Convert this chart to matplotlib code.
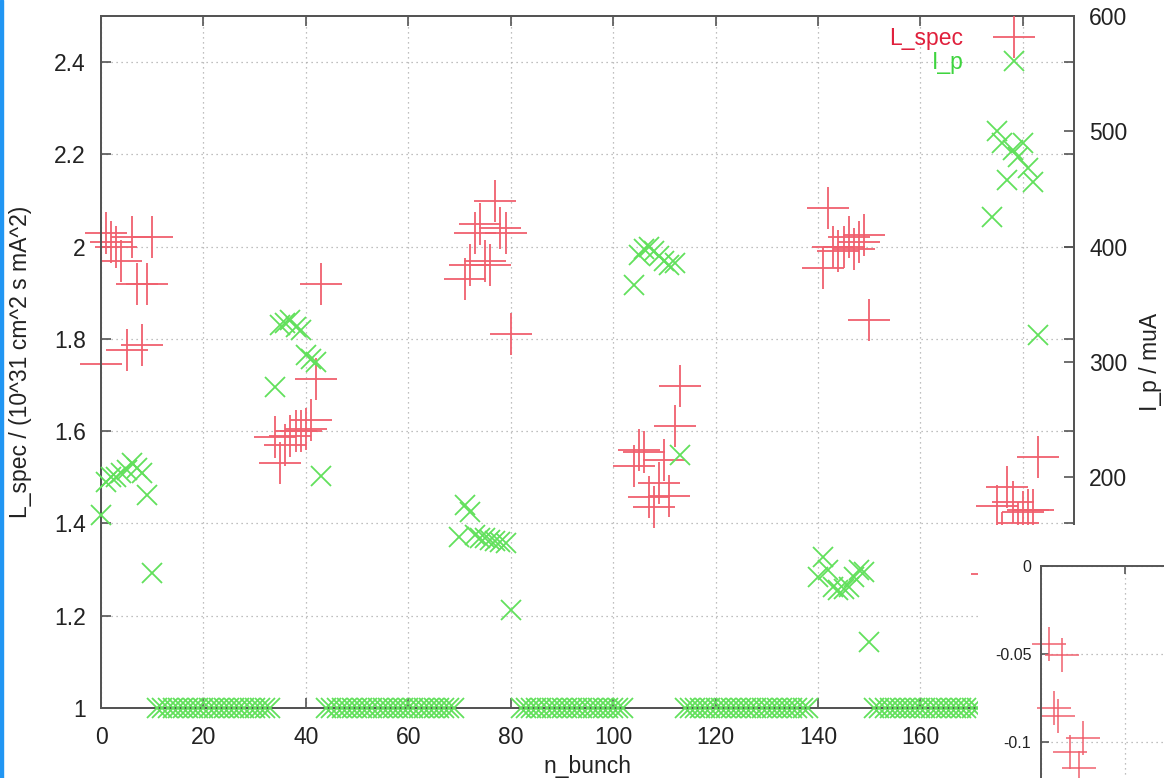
import matplotlib.pyplot as plt
from matplotlib.ticker import FormatStrFormatter
from matplotlib.patches import Rectangle

plt.rcParams['font.family'] = ['Liberation Sans', 'DejaVu Sans']

# specific luminosity per filled bunch (left axis)
lspec_bunch = [0, 1, 2, 3, 4, 5, 6, 7, 8, 9, 10,
               34, 35, 36, 37, 38, 39, 40, 41, 42, 43,
               71, 72, 73, 74, 75, 76, 77, 78, 79, 80,
               104, 105, 106, 107, 108, 109, 110, 111, 112, 113,
               141, 142, 143, 144, 145, 146, 147, 148, 149, 150,
               174, 175, 176, 177, 178, 179, 180, 181, 182, 183]
lspec = [1.745, 2.03, 2.01, 2.00, 1.97, 1.775, 2.02, 1.92, 1.787, 1.92, 2.02,
         1.587, 1.53, 1.57, 1.59, 1.60, 1.60, 1.605, 1.625, 1.713, 1.918,
         1.93, 1.96, 2.03, 2.05, 1.97, 1.96, 2.10, 2.04, 2.03, 1.81,
         1.524, 1.56, 1.555, 1.457, 1.436, 1.488, 1.537, 1.46, 1.611, 1.698,
         1.953, 2.083, 2.00, 1.99, 2.00, 2.02, 1.995, 2.01, 2.025, 1.841,
         1.29, 1.438, 1.38, 1.48, 1.446, 1.40, 1.425, 1.43, 1.43, 1.545]

# bunch current of filled bunches (right axis)
ip_bunch = [0, 1, 2, 3, 4, 5, 6, 7, 8, 9, 10,
            34, 35, 36, 37, 38, 39, 40, 41, 42, 43,
            70, 71, 72, 73, 74, 75, 76, 77, 78, 79, 80,
            104, 105, 106, 107, 108, 109, 110, 111, 112, 113,
            140, 141, 142, 143, 144, 145, 146, 147, 148, 149, 150,
            174, 175, 176, 177, 178, 179, 180, 181, 182, 183]
ip = [167, 196, 200, 200, 204, 206, 212, 208, 204, 185, 117,
      278, 332, 334, 336, 330, 328, 306, 303, 300, 201,
      148, 176, 170, 150, 147, 147, 146, 145, 144, 143, 85,
      367, 393, 398, 400, 396, 392, 388, 384, 386, 219,
      114, 131, 120, 105, 102, 103, 105, 114, 120, 118, 57,
      426, 500, 490, 458, 484, 478, 490, 468, 456, 323]

# empty bunch trains (I_p = 0), first and last bunch of each
empty_trains = [(11, 33), (44, 69), (82, 102), (114, 138), (151, 171)]

# second plot, partly visible in the corner
corner_bunch = [2, 5, 3, 4, 10, 7, 9]
corner_val = [-0.0443, -0.0506, -0.0807, -0.085, -0.0977, -0.1057, -0.1148]

x_ticks = [0, 20, 40, 60, 80, 100, 120, 140, 160, 180]
x_ticklabels = ['0', '20', '40', '60', '80', '100', '120', '140', '160', '']

RED = '#f0606e'
GREEN = '#62e05c'
AXC = '#555555'
TXT = '#222222'
FS = 16.5

W, H = 1164, 778
fig = plt.figure(figsize=(W / 100, H / 100), dpi=100)

ax = fig.add_axes([101 / W, 70 / H, 973 / W, 692 / H])
ax2 = ax.twinx()

empty_bunch = []
for a, b in empty_trains:
    empty_bunch += list(range(a, b + 1))

l1, = ax.plot(lspec_bunch, lspec, ls='none', marker='+', ms=30, mew=1.3,
              color=RED, clip_on=False, label='L_spec')
l2, = ax2.plot(ip_bunch, ip, ls='none', marker='x', ms=15, mew=1.3,
               color=GREEN, clip_on=False, label='I_p', zorder=3)
ax2.plot(empty_bunch, [0] * len(empty_bunch), ls='none', marker='x', ms=15,
         mew=1.3, color=GREEN, clip_on=False, zorder=3)

ax.set_xlim(0, 190)
ax.set_ylim(1, 2.5)
ax.set_xticks(x_ticks)
ax.set_xticklabels(x_ticklabels)
ax.set_yticks([1, 1.2, 1.4, 1.6, 1.8, 2.0, 2.2, 2.4])
ax.yaxis.set_major_formatter(FormatStrFormatter('%g'))
ax.grid(True, ls=(0, (1, 3)), color='#aaaaaa', lw=0.9)
ax.tick_params(direction='in', length=7, width=1.2, color=AXC, labelcolor=TXT,
               labelsize=FS, top=True, right=True)
ax.tick_params(axis='y', pad=11)
ax.tick_params(axis='x', pad=13)

ax2.set_ylim(0, 600)
ax2.set_yticks(range(0, 601, 100))
ax2.tick_params(direction='in', length=7, width=1.2, color=AXC, labelcolor=TXT,
                labelsize=FS, pad=11)

for a in (ax, ax2):
    for s in a.spines.values():
        s.set_color(AXC)
        s.set_linewidth(1.4)

ax.set_xlabel('n_bunch', fontsize=FS, color=TXT, labelpad=4)
ax.set_ylabel('L_spec / (10^31 cm^2 s mA^2)', fontsize=FS, color=TXT,
              labelpad=16)
ax2.set_ylabel('I_p / muA', fontsize=FS, color=TXT, labelpad=8)

leg = ax2.legend([l1, l2], ['L_spec', 'I_p'], loc='upper right',
                 bbox_to_anchor=(1055 / W, (H - 27) / H),
                 bbox_transform=fig.transFigure, frameon=False,
                 markerfirst=False, handlelength=3.6, handletextpad=0.4,
                 borderpad=0, borderaxespad=0, labelspacing=0.05, fontsize=FS)
leg.get_texts()[0].set_color('#e0203c')
leg.get_texts()[1].set_color('#3ed43e')

# white window of the other plot on top of the corner
panel = fig.add_axes([978 / W, 0, 186 / W, 253 / H])
panel.set_xticks([])
panel.set_yticks([])
for s in panel.spines.values():
    s.set_visible(False)

ins = fig.add_axes([1041 / W, 0.27249 - 0.67866, 798 / W, 0.67866])
ins.plot(corner_bunch, corner_val, ls='none', marker='+', ms=24, mew=1.1,
         color=RED, clip_on=False)
ins.set_xlim(0, 190)
ins.set_ylim(-0.3, 0)
ins.set_xticks(x_ticks)
ins.set_yticks([0, -0.05, -0.1])
ins.yaxis.set_major_formatter(FormatStrFormatter('%g'))
ins.grid(True, ls=(0, (1, 3)), color='#aaaaaa', lw=0.9)
ins.tick_params(direction='in', length=6, width=1.2, color=AXC, labelcolor=TXT,
                labelsize=11.5, top=True, right=True, pad=7,
                labelbottom=False)
for s in ins.spines.values():
    s.set_color(AXC)
    s.set_linewidth(1.4)

fig.add_artist(Rectangle((0, 0), 3 / W, 1, transform=fig.transFigure,
                         color='#2196f3', zorder=5))

fig.savefig('out.png', dpi=100)
